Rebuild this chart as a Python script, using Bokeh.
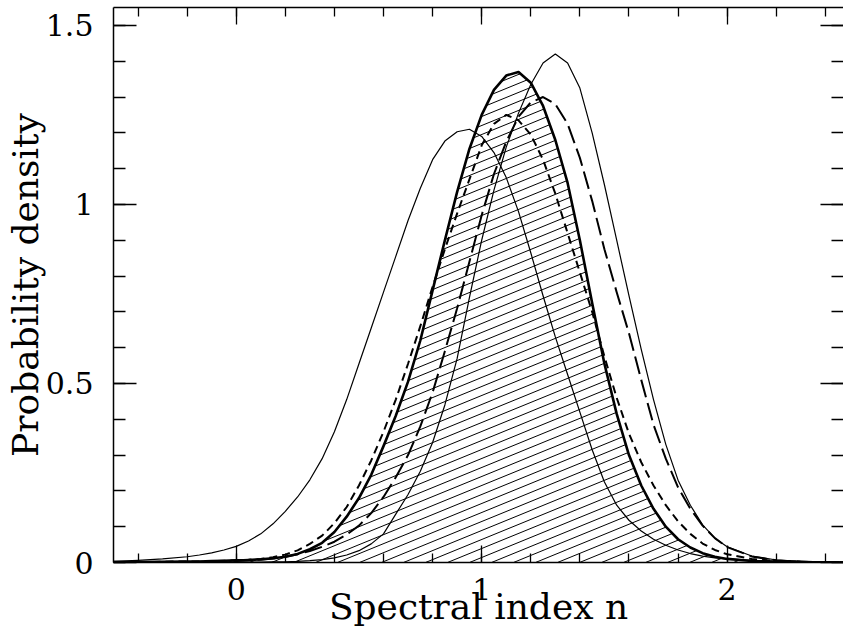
import numpy as np
from bokeh.plotting import figure
from bokeh.models import LinearAxis, FixedTicker, ColumnDataSource
from bokeh.embed import file_html
from bokeh.resources import INLINE

# ---------------- data ----------------
n_index = [-0.5, -0.4, -0.3, -0.2, -0.15, -0.1, -0.05, 0.0, 0.05, 0.1, 0.15, 0.2, 0.25, 0.3,
           0.35, 0.4, 0.45, 0.5, 0.55, 0.6, 0.65, 0.7, 0.75, 0.8, 0.85, 0.9, 0.95,
           1.0, 1.05, 1.1, 1.15, 1.2, 1.25, 1.3, 1.35, 1.4, 1.45, 1.5, 1.55, 1.6,
           1.65, 1.7, 1.75, 1.8, 1.85, 1.9, 1.95, 2.0, 2.1, 2.2, 2.3, 2.4, 2.5]

# thin solid, left-hand distribution
thin_left = [0.003, 0.006, 0.010, 0.016, 0.021, 0.027, 0.035, 0.045, 0.060, 0.080, 0.108, 0.143, 0.183, 0.231,
             0.29, 0.365, 0.455, 0.555, 0.655, 0.755, 0.855, 0.955, 1.045, 1.125, 1.177, 1.203, 1.21,
             1.19, 1.145, 1.075, 0.98, 0.865, 0.745, 0.63, 0.525, 0.42, 0.315, 0.225, 0.16, 0.118,
             0.088, 0.065, 0.048, 0.035, 0.025, 0.018, 0.013, 0.010, 0.006, 0.004, 0.003, 0.002, 0.001]

# thin solid, right-hand distribution
thin_right = [0.0, 0.0, 0.0, 0.0, 0.0, 0.0, 0.001, 0.001, 0.001, 0.001, 0.002, 0.002, 0.003, 0.005,
              0.008, 0.013, 0.021, 0.033, 0.052, 0.08, 0.135, 0.19, 0.255, 0.335, 0.44, 0.57, 0.74,
              0.90, 1.04, 1.16, 1.255, 1.335, 1.395, 1.42, 1.395, 1.325, 1.20, 1.055, 0.90, 0.745,
              0.595, 0.455, 0.33, 0.23, 0.16, 0.105, 0.068, 0.044, 0.018, 0.007, 0.003, 0.001, 0.0]

# thick solid (hatched) distribution
thick = [0.001, 0.001, 0.002, 0.003, 0.003, 0.004, 0.005, 0.006, 0.007, 0.009, 0.012, 0.016, 0.024, 0.037,
         0.055, 0.085, 0.128, 0.18, 0.245, 0.325, 0.41, 0.505, 0.62, 0.76, 0.90, 1.035, 1.155,
         1.25, 1.32, 1.36, 1.37, 1.34, 1.275, 1.18, 1.06, 0.90, 0.725, 0.555, 0.415, 0.30,
         0.215, 0.15, 0.10, 0.065, 0.042, 0.026, 0.016, 0.010, 0.004, 0.002, 0.001, 0.0, 0.0]

# short-dashed distribution
short_dash = [0.001, 0.001, 0.002, 0.003, 0.003, 0.004, 0.005, 0.006, 0.008, 0.010, 0.015, 0.022, 0.034, 0.052,
              0.075, 0.11, 0.155, 0.215, 0.285, 0.365, 0.455, 0.555, 0.66, 0.77, 0.875, 0.975, 1.07,
              1.165, 1.225, 1.25, 1.235, 1.195, 1.125, 1.03, 0.92, 0.81, 0.70, 0.575, 0.46, 0.36,
              0.28, 0.215, 0.16, 0.115, 0.08, 0.053, 0.035, 0.023, 0.010, 0.004, 0.002, 0.001, 0.0]

# long-dashed distribution
long_dash = [0.0, 0.0, 0.001, 0.001, 0.002, 0.002, 0.003, 0.004, 0.006, 0.008, 0.011, 0.016, 0.023, 0.032,
             0.044, 0.058, 0.078, 0.103, 0.138, 0.183, 0.238, 0.30, 0.38, 0.475, 0.59, 0.71, 0.84,
             0.97, 1.085, 1.175, 1.245, 1.285, 1.30, 1.28, 1.225, 1.13, 1.01, 0.875, 0.755, 0.64,
             0.51, 0.385, 0.29, 0.21, 0.15, 0.103, 0.068, 0.043, 0.017, 0.006, 0.002, 0.001, 0.0]

x_major = [0, 1, 2]
x_labels = ["0", "1", "2"]
y_major = [0, 0.5, 1, 1.5]
y_labels = ["0", "0.5", "1", "1.5"]

x_title = "Spectral index n"
y_title = "Probability density"

# ---------------- layout ----------------
FONT = "DejaVu Serif"
W, H = 843, 635
LEFT, RIGHT, TOP, BOTTOM = 113, 0, 7, 73
X0, X1 = -0.5, 2.474
Y0, Y1 = 0.0, 1.55
frame_w = W - LEFT - RIGHT
frame_h = H - TOP - BOTTOM
ppx = frame_w / (X1 - X0)   # pixels per x unit
ppy = frame_h / (Y1 - Y0)   # pixels per y unit

src = ColumnDataSource(dict(x=n_index, a=thin_left, b=thin_right, c=thick,
                            d=short_dash, e=long_dash))

p = figure(width=W, height=H, x_range=(X0, X1), y_range=(Y0, Y1),
           output_backend="svg", toolbar_location=None,
           x_axis_location=None, y_axis_location=None,
           min_border_left=LEFT, min_border_right=RIGHT,
           min_border_top=TOP, min_border_bottom=BOTTOM)
p.grid.visible = False
p.outline_line_color = None
p.background_fill_color = "white"
p.border_fill_color = "white"

x_minor = [round(v, 3) for v in np.arange(-0.4, 2.5, 0.2)]
y_minor = [round(v, 3) for v in np.arange(0.0, 1.55, 0.1)]


def axis(ticks, labels, minor, tin, tmin, show, line=True):
    ax = LinearAxis(ticker=FixedTicker(ticks=ticks, minor_ticks=minor),
                    major_label_overrides=dict(zip(ticks, labels)),
                    major_tick_in=tin, major_tick_out=0,
                    minor_tick_in=tmin, minor_tick_out=0,
                    major_tick_line_color="black", minor_tick_line_color="black",
                    major_tick_line_width=1.3, minor_tick_line_width=1.3,
                    axis_line_color="black" if line else None, axis_line_width=1.5,
                    major_label_text_font=FONT)
    if show:
        ax.major_label_text_font_size = "30px"
        ax.major_label_text_color = "black"
    else:
        ax.major_label_text_font_size = "0px"
        ax.major_label_text_color = None
        ax.major_label_standoff = 0
    return ax


bottom = axis(x_major, x_labels, x_minor, 17, 9, True)
bottom.major_label_standoff = 15
bottom.axis_label = x_title
bottom.axis_label_text_font = FONT
bottom.axis_label_text_font_size = "36px"
bottom.axis_label_text_font_style = "normal"
bottom.axis_label_text_color = "black"
bottom.axis_label_standoff = -17
p.add_layout(bottom, "below")

left = axis(y_major, y_labels, y_minor, 23, 12, True)
left.major_label_standoff = 20
left.axis_label = y_title
left.axis_label_text_font = FONT
left.axis_label_text_font_size = "36px"
left.axis_label_text_font_style = "normal"
left.axis_label_text_color = "black"
left.axis_label_standoff = -3
p.add_layout(left, "left")

p.add_layout(axis(x_major, x_labels, x_minor, 17, 9, False), "above")
p.add_layout(axis(y_major, y_labels, y_minor, 23, 12, False, line=False), "right")

# ---------------- hatching under the thick curve ----------------
hatch_dx, hatch_dy = 22.0, 9.0            # pixel period of the slanted lines
slope = (hatch_dy / hatch_dx) * ppx / ppy  # in data units
step = hatch_dy / ppy
xf = np.linspace(n_index[0], n_index[-1], 12001)
cf = np.interp(xf, n_index, thick)
hx, hy = [], []
for b in np.arange(-slope * X1 - step, Y1, step):
    yl = b + slope * xf
    inside = (yl >= 0) & (yl <= cf)
    d = np.diff(np.concatenate([[0], inside.astype(int), [0]]))
    for s, e in zip(np.flatnonzero(d == 1), np.flatnonzero(d == -1) - 1):
        if e > s:
            hx.append([xf[s], xf[e]])
            hy.append([yl[s], yl[e]])
p.multi_line(hx, hy, line_color="black", line_width=1.0)

# ---------------- curves ----------------
p.line("x", "a", source=src, line_color="black", line_width=1.2, line_join="round")
p.line("x", "b", source=src, line_color="black", line_width=1.2, line_join="round")
p.line("x", "e", source=src, line_color="black", line_width=2.0, line_dash="18 6")
p.line("x", "d", source=src, line_color="black", line_width=2.0, line_dash="8 5")
p.line("x", "c", source=src, line_color="black", line_width=2.6, line_join="round")

open("out.html", "w").write(file_html(p, INLINE))
